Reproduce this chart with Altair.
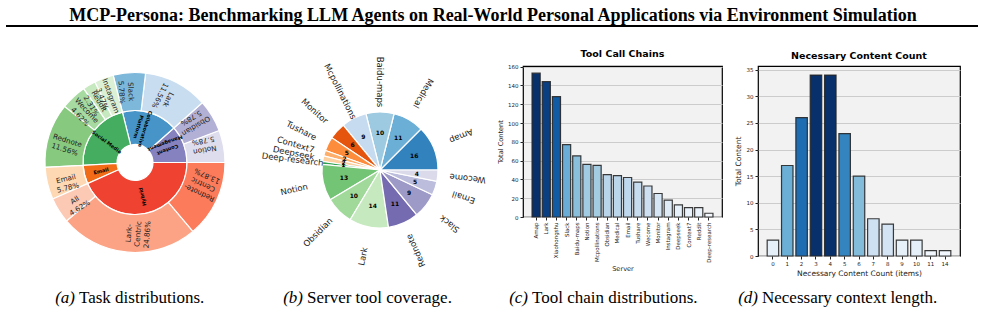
import math
import altair as alt
import pandas as pd

# ---------------- data ----------------
fig_title = "MCP-Persona: Benchmarking LLM Agents on Real-World Personal Applications via Environment Simulation"
caption_tags = ["(a)", "(b)", "(c)", "(d)"]
caption_texts = ["Task distributions.", "Server tool coverage.", "Tool chain distributions.", "Necessary context length."]

# (a) task distribution (sunburst)
task_groups = ["Content\nManagement", "Collaborative\nPlatform", "Social Media", "Email", "Hybrid"]
task_group_counts = [20, 30, 38, 10, 75]
task_group_colors = ["#8682bf", "#4694c8", "#45ad5f", "#f26b16", "#ef4230"]

task_apps = ["Notion", "Obsidian", "Lark", "Slack", "Instagram", "Reddit", "Wecome", "Rednote",
             "Email", "All", "Lark-\nCentric", "Rednote-\nCentric"]
task_app_counts = [10, 10, 20, 10, 6, 4, 8, 20, 10, 8, 43, 24]
task_app_colors = ["#dedded", "#b3b0d5", "#c9ddf0", "#7db8da", "#dcf0d6", "#c7e9c0", "#a6daa0", "#86c97f",
                   "#fdd8b2", "#fcc9b4", "#fca385", "#fb7b5a"]

# (b) server tool coverage (pie)
tool_servers = ["Amap", "Medical", "Baidu-maps", "Mcpollinations", "Monitor", "Tushare", "Context7", "Deepseek",
                "Deep-research", "Notion", "Obsidian", "Lark", "Rednote", "Slack", "Email", "Wecome"]
tool_counts = [16, 11, 10, 9, 6, 5, 2, 2, 1, 13, 10, 14, 11, 9, 5, 4]
tool_colors = ["#3182bd", "#6baed6", "#9ecae1", "#c6dbef", "#e6550d", "#fd8d3c", "#fdae6b", "#fdd0a2",
               "#31a354", "#74c476", "#a1d99b", "#c7e9c0", "#756bb1", "#9e9ac8", "#bcbddc", "#dadaeb"]

# (c) tool call chains
chain_servers = ["Amap", "Lark", "Xiaohongshu", "Slack", "Baidu-maps", "Notion", "Mcpollinations", "Obsidian",
                 "Medical", "Email", "Tushare", "Wecome", "Monitor", "Instagram", "Deepseek", "Context7",
                 "Reddit", "Deep-research"]
chain_counts = [153, 144, 128, 77, 65, 56, 55, 45, 44, 42, 37, 33, 25, 18, 13, 10, 10, 4]

# (d) necessary content count
context_items = ["0", "1", "2", "3", "4", "5", "6", "7", "8", "9", "10", "11", "14"]
context_counts = [3, 17, 26, 34, 34, 23, 15, 7, 6, 3, 3, 1, 1]

blues = ["#f7fbff", "#deebf7", "#c6dbef", "#9ecae1", "#6baed6", "#4292c6", "#2171b5", "#08519c", "#08306b"]

# ---------------- layout constants ----------------
SPACING = 36
A_W, A_H = 204, 193
B_W, B_H = 214, 208
C_W, C_H = 199, 151
D_W, D_H = 202, 190
CAP_Y = 237
SANS = "DejaVu Sans"
SERIF = "Liberation Serif"
INK = "#222222"

theta_scale = alt.Scale(domain=[0, 1], range=[2.5 * math.pi, 0.5 * math.pi])


def polar_base(df):
    return (
        alt.Chart(df)
        .transform_window(cum="sum(count)", sort=[alt.SortField("order")], frame=[None, 0])
        .transform_joinaggregate(total="sum(count)")
        .transform_calculate(
            t0="(datum.cum - datum.count) / datum.total",
            t1="datum.cum / datum.total",
            tm="(datum.cum - datum.count / 2) / datum.total",
            rot="((180 - 360 * (datum.cum - datum.count / 2) / datum.total) % 360 + 360) % 360",
            lab="datum.name + '\\n' + format(100 * datum.count / datum.total, '.2f') + '%'",
        )
    )


def caption(i, split_x):
    d = pd.DataFrame({"tag": [caption_tags[i]], "txt": [caption_texts[i]]})
    base = alt.Chart(d)
    tag = base.mark_text(font=SERIF, fontSize=17, fontStyle="italic", align="right",
                         baseline="alphabetic", color="black").encode(
        x=alt.value(split_x), y=alt.value(CAP_Y), text="tag:N")
    txt = base.mark_text(font=SERIF, fontSize=17, align="left",
                         baseline="alphabetic", color="black").encode(
        x=alt.value(split_x + 4), y=alt.value(CAP_Y), text="txt:N")
    return [tag, txt]


# ---------------- panel (a) ----------------
df_a_in = pd.DataFrame({"name": task_groups, "count": task_group_counts, "color": task_group_colors,
                        "order": list(range(len(task_groups)))})
df_a_out = pd.DataFrame({"name": task_apps, "count": task_app_counts, "color": task_app_colors,
                         "order": list(range(len(task_apps)))})

base_in = polar_base(df_a_in)
base_out = polar_base(df_a_out)

arcs_in = base_in.mark_arc(innerRadius=18, outerRadius=52, stroke="white", strokeWidth=1.2).encode(
    theta=alt.Theta("t0:Q", scale=theta_scale, stack=False),
    theta2="t1:Q",
    color=alt.Color("color:N", scale=None),
)
labels_in = base_in.mark_text(radius=35, font=SANS, fontSize=5, fontWeight="bold", color="black",
                              lineBreak="\n", align="center", baseline="middle").encode(
    theta=alt.Theta("tm:Q", scale=theta_scale, stack=False),
    angle=alt.Angle("rot:Q", scale=None),
    text="name:N",
)
arcs_out = base_out.mark_arc(innerRadius=52, outerRadius=90, stroke="white", strokeWidth=1.2).encode(
    theta=alt.Theta("t0:Q", scale=theta_scale, stack=False),
    theta2="t1:Q",
    color=alt.Color("color:N", scale=None),
)
labels_out = base_out.mark_text(radius=71, font=SANS, fontSize=7.2, color=INK,
                                lineBreak="\n", align="center", baseline="middle").encode(
    theta=alt.Theta("tm:Q", scale=theta_scale, stack=False),
    angle=alt.Angle("rot:Q", scale=None),
    text="lab:N",
)

title_df = pd.DataFrame({"t": [fig_title]})
main_title = alt.Chart(title_df).mark_text(font=SERIF, fontSize=18, fontWeight="bold", color="black",
                                           align="center", baseline="alphabetic").encode(
    x=alt.value(460), y=alt.value(-45), text="t:N")
title_rule = alt.Chart(title_df).mark_rule(color="black", strokeWidth=2).encode(
    x=alt.value(-27), x2=alt.value(945), y=alt.value(-40))

panel_a = alt.layer(arcs_in, arcs_out, labels_in, labels_out, main_title, title_rule,
                    *caption(0, 42)).properties(width=A_W, height=A_H)

# ---------------- panel (b) ----------------
df_b = pd.DataFrame({"name": tool_servers, "count": tool_counts, "color": tool_colors,
                     "order": list(range(len(tool_servers)))})
base_b = polar_base(df_b)
arcs_b = base_b.mark_arc(outerRadius=58, stroke="white", strokeWidth=1.2).encode(
    theta=alt.Theta("t0:Q", scale=theta_scale, stack=False),
    theta2="t1:Q",
    color=alt.Color("color:N", scale=None),
)
names_b = base_b.mark_text(radius=88, font=SANS, fontSize=8.5, color=INK,
                           align="center", baseline="middle").encode(
    theta=alt.Theta("tm:Q", scale=theta_scale, stack=False),
    angle=alt.Angle("rot:Q", scale=None),
    text="name:N",
)
nums_b = base_b.mark_text(radius=37, font=SANS, fontSize=6, fontWeight="bold", color="black",
                          align="center", baseline="middle").encode(
    theta=alt.Theta("tm:Q", scale=theta_scale, stack=False),
    text=alt.Text("count:Q"),
)
panel_b = alt.layer(arcs_b, names_b, nums_b, *caption(1, 30)).properties(width=B_W, height=B_H)

# ---------------- bar panels ----------------
def bar_panel(df, xfield, yfield, order, xtitle, title, width, height, ticks, title_size, label_angle, pad_outer, cap_i, cap_x):
    vmax = max(df[yfield])
    bars = alt.Chart(df).mark_bar(stroke="#262626", strokeWidth=1.2, strokeOpacity=0.9).encode(
        x=alt.X(f"{xfield}:N", sort=order,
                scale=alt.Scale(paddingInner=0.2, paddingOuter=pad_outer),
                axis=alt.Axis(title=xtitle, labelAngle=label_angle, labelFont=SANS, labelFontSize=5.5,
                              labelColor=INK, titleFont=SANS, titleFontSize=title_size, titleFontWeight="normal",
                              titleColor=INK, tickColor=INK, tickSize=3, domain=False, grid=False,
                              labelPadding=2, titlePadding=3)),
        y=alt.Y(f"{yfield}:Q", scale=alt.Scale(domain=[0, vmax * 1.05], nice=False),
                axis=alt.Axis(title="Total Content", values=ticks, labelFont=SANS, labelFontSize=5.5,
                              labelColor=INK, titleFont=SANS, titleFontSize=title_size,
                              titleFontWeight="normal", titleColor=INK, tickColor=INK, tickSize=3,
                              domain=False, grid=True, gridColor="#cccccc", gridWidth=1,
                              labelPadding=2, titlePadding=4)),
        color=alt.Color(f"{yfield}:Q", legend=None,
                        scale=alt.Scale(domain=[vmax * i / 8 for i in range(9)], range=blues)),
    )
    return alt.layer(bars, *caption(cap_i, cap_x)).properties(
        width=width, height=height,
        title=alt.TitleParams(text=title, font=SANS, fontSize=9.5, fontWeight="bold", color="black",
                              offset=6, anchor="middle"),
        view=alt.ViewBackground(fill="#f2f2f2", stroke="black", strokeWidth=1.2),
    )


df_c = pd.DataFrame({"server": chain_servers, "n": chain_counts})
panel_c = bar_panel(df_c, "server", "n", chain_servers, "Server", "Tool Call Chains", C_W, C_H,
                    list(range(0, 161, 20)), 6.6, 270, 0.89, 2, 5)

df_d = pd.DataFrame({"k": context_items, "n": context_counts})
panel_d = bar_panel(df_d, "k", "n", context_items, "Necessary Content Count (items)", "Necessary Content Count",
                    D_W, D_H, list(range(0, 36, 5)), 7.5, 0, 0.64, 3, 0)

chart = (
    alt.hconcat(panel_a, panel_b, panel_c, panel_d, spacing=SPACING, bounds="flush")
    .resolve_scale(color="independent", theta="independent")
    .properties(padding={"left": 5, "top": 7, "right": 5, "bottom": 5}, background="white")
    .configure_view(strokeWidth=0)
)

chart.save("out.html", embed_options={"renderer": "svg", "actions": False})
